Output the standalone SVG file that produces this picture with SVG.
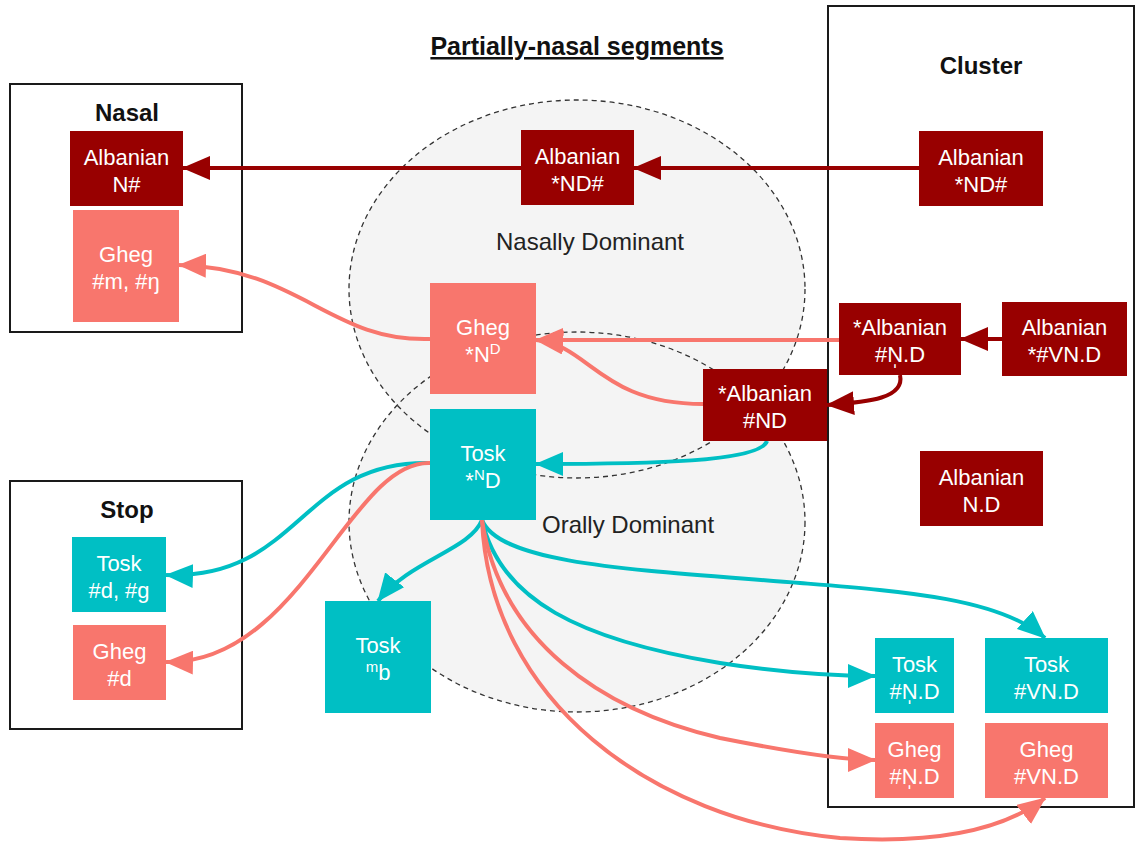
<svg xmlns="http://www.w3.org/2000/svg" width="1138" height="843" viewBox="0 0 1138 843">
  <style>
    .t { font-family: "Liberation Sans", Arial, sans-serif; font-size: 22px; fill: #ffffff; text-anchor: middle; }
    .h { font-family: "Liberation Sans", Arial, sans-serif; font-size: 24px; font-weight: bold; fill: #111; text-anchor: middle; }
    .title { font-size: 25px; text-decoration: underline; }
    .lbl { font-family: "Liberation Sans", Arial, sans-serif; font-size: 24px; fill: #222; }
    .sup { font-size: 15px; }
    .dr { fill: #980000; }
    .sa { fill: #f8766d; }
    .te { fill: #00bfc4; }
    .frame { fill: none; stroke: #1a1a1a; stroke-width: 2; }
    .zone { fill: #f4f4f4; stroke: none; }
    .zone-edge { fill: none; stroke: #333; stroke-width: 1.3; stroke-dasharray: 5 4; }
    .c { fill: none; stroke-width: 4; }
    .c-dr { stroke: #980000; marker-end: url(#ah-dr); }
    .c-sa { stroke: #f8766d; marker-end: url(#ah-sa); }
    .c-te { stroke: #00bfc4; marker-end: url(#ah-te); }
  </style>
  <defs>
    <marker id="ah-dr" markerUnits="userSpaceOnUse" viewBox="0 0 28 24" markerWidth="28" markerHeight="24" refX="27" refY="12" orient="auto">
      <path d="M0,0 L28,12 L0,24 z" fill="#980000"/>
    </marker>
    <marker id="ah-sa" markerUnits="userSpaceOnUse" viewBox="0 0 28 24" markerWidth="28" markerHeight="24" refX="27" refY="12" orient="auto">
      <path d="M0,0 L28,12 L0,24 z" fill="#f8766d"/>
    </marker>
    <marker id="ah-te" markerUnits="userSpaceOnUse" viewBox="0 0 28 24" markerWidth="28" markerHeight="24" refX="27" refY="12" orient="auto">
      <path d="M0,0 L28,12 L0,24 z" fill="#00bfc4"/>
    </marker>
  </defs>

  <rect width="1138" height="843" fill="#ffffff"/>

  <!-- dominance zones -->
  <g id="zones">
    <ellipse class="zone" cx="577" cy="289" rx="228" ry="189"/>
    <ellipse class="zone" cx="577" cy="522" rx="228" ry="190"/>
    <ellipse class="zone-edge" cx="577" cy="289" rx="228" ry="189"/>
    <ellipse class="zone-edge" cx="577" cy="522" rx="228" ry="190"/>
    <text class="lbl" x="590" y="250" text-anchor="middle">Nasally Dominant</text>
    <text class="lbl" x="542" y="533">Orally Dominant</text>
  </g>

  <!-- category frames -->
  <g id="frames">
    <rect class="frame" x="10" y="84" width="232" height="248"/>
    <text class="h" x="127" y="121">Nasal</text>
    <rect class="frame" x="10" y="481" width="232" height="248"/>
    <text class="h" x="127" y="518">Stop</text>
    <rect class="frame" x="828" y="6" width="306" height="801"/>
    <text class="h" x="981" y="74">Cluster</text>
    <text class="h title" x="577" y="55">Partially-nasal segments</text>
  </g>

  <!-- connectors -->
  <g id="connectors">
    <path class="c c-dr" d="M919,168 L634,168"/>
    <path class="c c-dr" d="M521,168 L183,168"/>
    <path class="c c-sa" d="M430,339 C330,342 300,268 179,265"/>
    <path class="c c-sa" d="M839,340 L536,340"/>
    <path class="c c-sa" d="M703,404 C600,404 590,345 536,340"/>
    <path class="c c-dr" d="M1002,339 L961,339"/>
    <path class="c c-dr" d="M900,375 C905,398 870,402 827,405"/>
    <path class="c c-te" d="M767,441 C760,462 650,464 536,464"/>
    <path class="c c-te" d="M430,463 C300,460 300,580 166,575"/>
    <path class="c c-sa" d="M430,463 C350,460 300,665 166,662"/>
    <path class="c c-te" d="M482,520 C470,550 410,560 378,601"/>
    <path class="c c-te" d="M482,520 C500,565 640,570 800,583 C900,591 1000,598 1045,638"/>
    <path class="c c-te" d="M482,520 C500,600 580,640 720,663 C790,674 840,676 875,676"/>
    <path class="c c-sa" d="M482,520 C500,640 600,710 720,738 C790,752 840,760 875,760"/>
    <path class="c c-sa" d="M482,520 C490,700 650,820 840,838 C950,845 1010,825 1045,798"/>
  </g>

  <!-- nodes -->
  <g id="albanian-n-final">
    <rect class="dr" x="70" y="131" width="113" height="75"/>
    <text class="t" x="126.5" y="164.5">Albanian</text>
    <text class="t" x="126.5" y="191.5">N#</text>
  </g>
  <g id="gheg-nasal">
    <rect class="sa" x="73" y="210" width="106" height="112"/>
    <text class="t" x="126" y="262">Gheg</text>
    <text class="t" x="126" y="289">#m, #ŋ</text>
  </g>
  <g id="albanian-nd-final-mid">
    <rect class="dr" x="521" y="130" width="113" height="75"/>
    <text class="t" x="577.5" y="163.5">Albanian</text>
    <text class="t" x="577.5" y="190.5">*ND#</text>
  </g>
  <g id="albanian-nd-final-cluster">
    <rect class="dr" x="919" y="131" width="124" height="75"/>
    <text class="t" x="981" y="164.5">Albanian</text>
    <text class="t" x="981" y="191.5">*ND#</text>
  </g>
  <g id="gheg-prenasal">
    <rect class="sa" x="430" y="283" width="106" height="111"/>
    <text class="t" x="483" y="334.5">Gheg</text>
    <text class="t" x="483" y="361.5">*N<tspan class="sup" dy="-8">D</tspan></text>
  </g>
  <g id="tosk-prenasal">
    <rect class="te" x="430" y="409" width="106" height="111"/>
    <text class="t" x="483" y="460.5">Tosk</text>
    <text class="t" x="483" y="487.5">*<tspan class="sup" dy="-8">N</tspan><tspan dy="8">D</tspan></text>
  </g>
  <g id="albanian-initial-nd">
    <rect class="dr" x="703" y="369" width="124" height="72"/>
    <text class="t" x="765" y="401">*Albanian</text>
    <text class="t" x="765" y="428">#ND</text>
  </g>
  <g id="albanian-syllabic-nd">
    <rect class="dr" x="839" y="303" width="122" height="72"/>
    <text class="t" x="900" y="335">*Albanian</text>
    <text class="t" x="900" y="362">#N&#x329;.D</text>
  </g>
  <g id="albanian-vn-d">
    <rect class="dr" x="1002" y="302" width="125" height="74"/>
    <text class="t" x="1064.5" y="335">Albanian</text>
    <text class="t" x="1064.5" y="362">*#VN.D</text>
  </g>
  <g id="albanian-n-d">
    <rect class="dr" x="920" y="451" width="123" height="75"/>
    <text class="t" x="981.5" y="484.5">Albanian</text>
    <text class="t" x="981.5" y="511.5">N.D</text>
  </g>
  <g id="tosk-stop">
    <rect class="te" x="72" y="537" width="94" height="75"/>
    <text class="t" x="119" y="570.5">Tosk</text>
    <text class="t" x="119" y="597.5">#d, #g</text>
  </g>
  <g id="gheg-stop">
    <rect class="sa" x="73" y="625" width="93" height="75"/>
    <text class="t" x="119.5" y="658.5">Gheg</text>
    <text class="t" x="119.5" y="685.5">#d</text>
  </g>
  <g id="tosk-mb">
    <rect class="te" x="325" y="601" width="106" height="112"/>
    <text class="t" x="378" y="653">Tosk</text>
    <text class="t" x="378" y="680"><tspan class="sup" dy="-8">m</tspan><tspan dy="8">b</tspan></text>
  </g>
  <g id="tosk-syllabic-nd">
    <rect class="te" x="875" y="638" width="79" height="75"/>
    <text class="t" x="914.5" y="671.5">Tosk</text>
    <text class="t" x="914.5" y="698.5">#N&#x329;.D</text>
  </g>
  <g id="tosk-vn-d">
    <rect class="te" x="985" y="638" width="123" height="75"/>
    <text class="t" x="1046.5" y="671.5">Tosk</text>
    <text class="t" x="1046.5" y="698.5">#VN.D</text>
  </g>
  <g id="gheg-syllabic-nd">
    <rect class="sa" x="875" y="723" width="79" height="75"/>
    <text class="t" x="914.5" y="756.5">Gheg</text>
    <text class="t" x="914.5" y="783.5">#N&#x329;.D</text>
  </g>
  <g id="gheg-vn-d">
    <rect class="sa" x="985" y="723" width="123" height="75"/>
    <text class="t" x="1046.5" y="756.5">Gheg</text>
    <text class="t" x="1046.5" y="783.5">#VN.D</text>
  </g>
</svg>
